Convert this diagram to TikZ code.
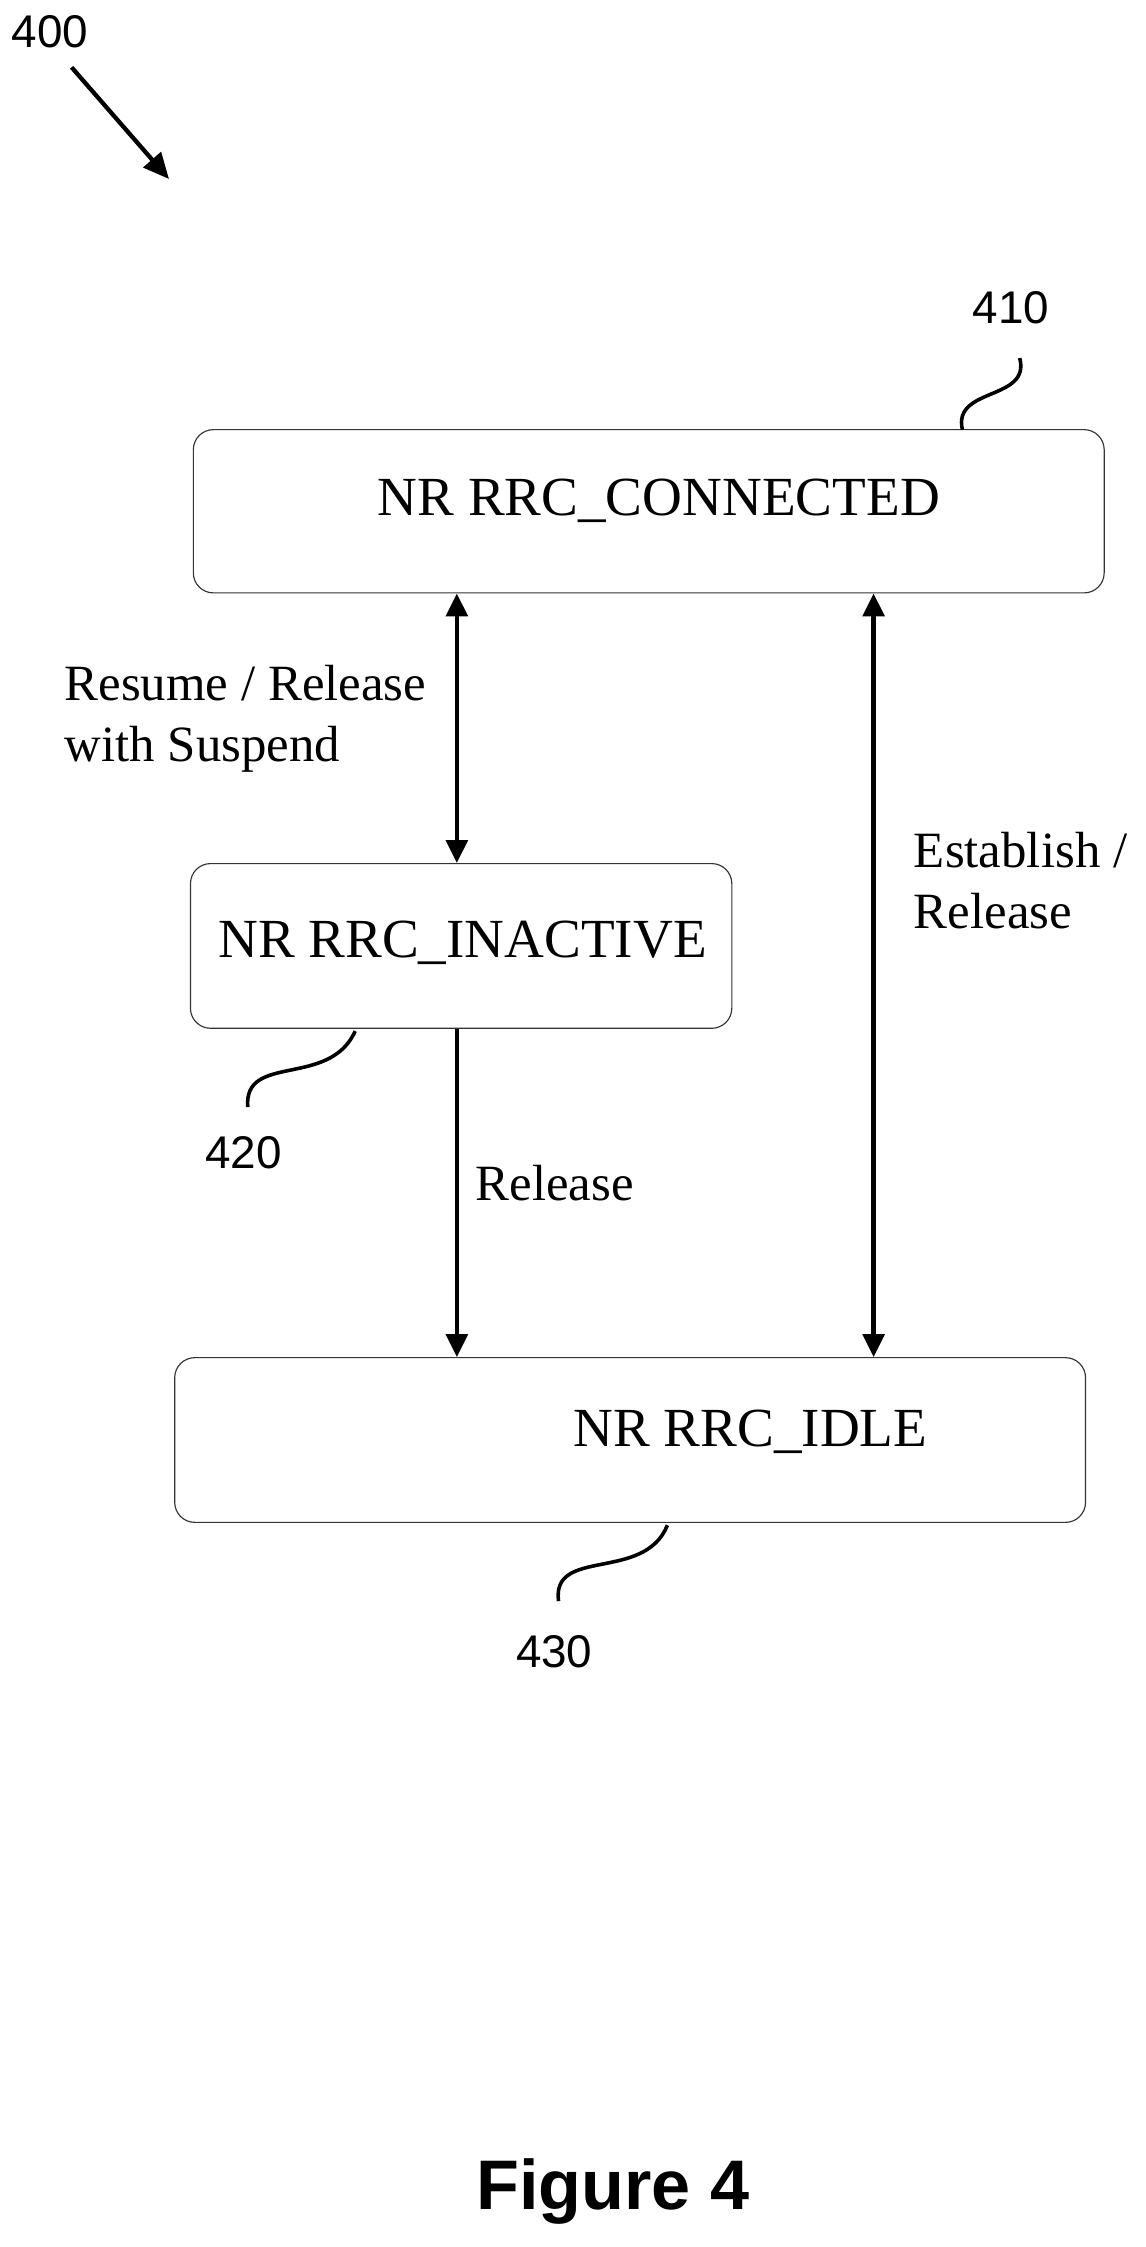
\documentclass[tikz,border=0pt]{standalone}
\usepackage{fontspec}
\setmainfont{Liberation Serif}
\newfontfamily\arial{Liberation Sans}
\usetikzlibrary{arrows.meta}
\begin{document}
\begin{tikzpicture}[x=1pt,y=-1pt,
  state/.style={draw=black!80,line width=0.8pt,rounded corners=14pt,inner sep=0pt},
  stxt/.style={font=\fontsize{38.5}{42}\selectfont},
  ref/.style={font=\arial\fontsize{32}{36}\selectfont},
  lbl/.style={font=\fontsize{35.5}{43}\selectfont,align=left,anchor=west,inner sep=0pt},
  conn/.style={line width=3pt,{Triangle[length=16pt,width=15pt]}-{Triangle[length=16pt,width=15pt]}},
  sq/.style={line width=2.5pt}]
\useasboundingbox (0,0) rectangle (800,1569);
\fill[white] (0,0) rectangle (800,1569);
% states
\node[state,minimum width=636pt,minimum height=114pt] (s410) at (453,357) {};
\node[stxt] (t410) at (460,350) {NR RRC\_CONNECTED};
\node[state,minimum width=378pt,minimum height=115pt] (s420) at (322,660.5) {};
\node[stxt] (t420) at (323,658) {NR RRC\_INACTIVE};
\node[state,minimum width=636pt,minimum height=115pt] (s430) at (440,1005.5) {};
\node[stxt] (t430) at (524,1000) {NR RRC\_IDLE};
% reference numerals
\node[ref] (r400) at (35,22) {400};
\coordinate (a0) at (50,47); \coordinate (a1) at (118,125);
\draw[line width=3pt,-{Triangle[length=18pt,width=16pt]}] (a0) -- (a1);
\node[ref] (r410) at (706,215) {410};
\node[ref] (r420) at (170,805) {420};
\node[ref] (r430) at (387,1153) {430};
\coordinate (q1a) at (672,300); \coordinate (q1b) at (712,250);
\draw[sq] (q1a) .. controls (665,270) and (720,280) .. (q1b);
\coordinate (q2a) at (248,720); \coordinate (q2b) at (173,773);
\draw[sq] (q2a) .. controls (230,760) and (170,735) .. (q2b);
\coordinate (q3a) at (466,1065); \coordinate (q3b) at (390,1118);
\draw[sq] (q3a) .. controls (450,1105) and (385,1080) .. (q3b);
% connectors
\draw[conn] (s410.south -| 319,0) -- (s420.north -| 319,0);
\draw[line width=3pt,-{Triangle[length=16pt,width=15pt]}] (s420.south -| 319,0) -- (s430.north -| 319,0);
\draw[conn] (s410.south -| 610,0) -- (s430.north -| 610,0);
% labels
\node[lbl] (l1) at (45,502) {Resume / Release\\with Suspend};
\node[lbl] (l2) at (332,826) {Release};
\node[lbl] (l3) at (638,615) {Establish /\\Release};
\node[font=\arial\bfseries\fontsize{49}{54}\selectfont] (fig) at (428,1530) {Figure 4};
\end{tikzpicture}
\end{document}
